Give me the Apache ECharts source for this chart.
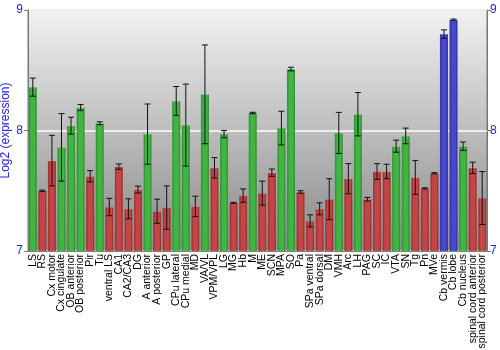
<!DOCTYPE html>
<html>
<head>
<meta charset="utf-8">
<script src="https://cdn.jsdelivr.net/npm/echarts@6/dist/echarts.min.js"></script>
<style>
  html, body { margin: 0; padding: 0; background: #fff; }
  #chart { width: 500px; height: 350px; }
</style>
</head>
<body>
<div id="chart"></div>
<script>
// Brain regions
var regions = ['LS', 'RS', 'Cx motor', 'Cx cingulate', 'OB anterior', 'OB posterior', 'Pir', 'Tu',
  'ventral LS', 'CA1', 'CA2/CA3', 'DG', 'A anterior', 'A posterior', 'GP', 'CPu lateral',
  'CPu medial', 'MD', 'VA/VL', 'VPM/VPL', 'LG', 'MG', 'Hb', 'M', 'ME', 'SCN', 'MPA', 'SO',
  'Pa', 'SPa ventral', 'SPa dorsal', 'DM', 'VMH', 'Arc', 'LH', 'PAG', 'SC', 'IC', 'VTA', 'SN',
  'Tg', 'Pn', 'MVe', 'Cb vermis', 'Cb lobe', 'Cb nucleus', 'spinal cord anterior', 'spinal cord posterior'];

// Mean log2 expression per region
var expression = [8.36, 7.50, 7.75, 7.86, 8.04, 8.19, 7.62, 8.06,
  7.365, 7.70, 7.35, 7.51, 7.97, 7.33, 7.36, 8.245,
  8.045, 7.37, 8.30, 7.69, 7.97, 7.40, 7.46, 8.145, 7.48, 7.65, 8.02, 8.51,
  7.49, 7.25, 7.35, 7.43, 7.98, 7.60, 8.135, 7.43, 7.66, 7.66, 7.87, 7.955,
  7.61, 7.52, 7.645, 8.80, 8.92, 7.87, 7.69, 7.44];

// Standard error (half-length of each error bar)
var stdError = [0.075, 0.005, 0.21, 0.28, 0.07, 0.025, 0.047, 0.012,
  0.072, 0.022, 0.083, 0.028, 0.25, 0.10, 0.18, 0.12,
  0.34, 0.085, 0.41, 0.085, 0.03, 0.004, 0.055, 0.006, 0.10, 0.03, 0.14, 0.015,
  0.01, 0.05, 0.05, 0.17, 0.17, 0.125, 0.18, 0.015, 0.065, 0.06, 0.05, 0.065,
  0.14, 0.004, 0.005, 0.035, 0.005, 0.035, 0.047, 0.22];

// Colour group: g = green, r = red, b = blue
var groups = ['g', 'r', 'r', 'g', 'g', 'g', 'r', 'g',
  'r', 'r', 'r', 'r', 'g', 'r', 'r', 'g',
  'g', 'r', 'g', 'r', 'g', 'r', 'r', 'g', 'r', 'r', 'g', 'g',
  'r', 'r', 'r', 'r', 'g', 'r', 'g', 'r', 'r', 'r', 'g', 'g',
  'r', 'r', 'r', 'b', 'b', 'g', 'r', 'r'];

var yTicks = [7, 8, 9];

function barGradient(dark, light, darker) {
  return new echarts.graphic.LinearGradient(0, 0, 1, 0, [
    { offset: 0, color: dark },
    { offset: 0.3, color: light },
    { offset: 0.75, color: light },
    { offset: 1, color: darker }
  ]);
}
var palette = {
  g: barGradient('#22842a', '#42b443', '#1f7322'),
  r: barGradient('#8c2222', '#c24646', '#7a1c1c'),
  b: barGradient('#24249a', '#4848ca', '#1e1e88')
};

var barData = expression.map(function (v, i) {
  return { value: v, itemStyle: { color: palette[groups[i]] } };
});
var errData = expression.map(function (v, i) {
  return [i, v - stdError[i], v + stdError[i]];
});

var blue = '#2222ee';
var font = 'Liberation Sans, Arial, sans-serif';
var chart = echarts.init(document.getElementById('chart'), null, { renderer: 'canvas' });
chart.setOption({
  animation: false,
  grid: {
    left: 28, right: 13, top: 10, bottom: 99,
    outerBoundsMode: 'none',
    containLabel: false,
    show: true,
    borderColor: '#777',
    borderWidth: 1,
    backgroundColor: new echarts.graphic.LinearGradient(0, 0, 0, 1, [
      { offset: 0, color: '#f2f2f2' },
      { offset: 1, color: '#888888' }
    ])
  },
  xAxis: {
    type: 'category',
    data: regions,
    axisLine: { show: true, lineStyle: { color: '#777' } },
    axisTick: { show: false },
    axisLabel: {
      interval: 0, rotate: 90, color: '#000',
      fontFamily: font, fontSize: 10.5, margin: 3
    }
  },
  yAxis: [{
    type: 'value', min: yTicks[0], max: yTicks[yTicks.length - 1], interval: 1,
    name: 'Log2 (expression)', nameLocation: 'middle', nameGap: 16,
    nameMoveOverlap: false,
    nameTextStyle: { color: blue, fontSize: 12, fontFamily: font },
    axisLine: { show: true, lineStyle: { color: '#777' } },
    axisTick: { show: true, length: 4, lineStyle: { color: '#777' } },
    axisLabel: { color: blue, fontSize: 12, margin: 5, fontFamily: font },
    splitLine: { show: true, lineStyle: { color: '#ffffff', width: 1.5 } }
  }, {
    type: 'value', min: yTicks[0], max: yTicks[yTicks.length - 1], interval: 1, position: 'right',
    axisLine: { show: true, lineStyle: { color: '#777' } },
    axisTick: { show: true, length: 4, lineStyle: { color: '#777' } },
    axisLabel: { color: blue, fontSize: 12, margin: 3, fontFamily: font },
    splitLine: { show: false }
  }],
  series: [{
    type: 'bar',
    data: barData,
    barCategoryGap: '10%',
    itemStyle: { borderColor: 'rgba(255,255,255,0.25)', borderWidth: 0.5 }
  }, {
    type: 'custom',
    z: 5,
    data: errData,
    renderItem: function (params, api) {
      var x = api.value(0);
      var lo = api.coord([x, api.value(1)]);
      var hi = api.coord([x, api.value(2)]);
      var cap = 3;
      var st = { stroke: '#111', lineWidth: 1 };
      return {
        type: 'group',
        children: [
          { type: 'line', shape: { x1: lo[0], y1: lo[1], x2: hi[0], y2: hi[1] }, style: st },
          { type: 'line', shape: { x1: lo[0] - cap, y1: lo[1], x2: lo[0] + cap, y2: lo[1] }, style: st },
          { type: 'line', shape: { x1: hi[0] - cap, y1: hi[1], x2: hi[0] + cap, y2: hi[1] }, style: st }
        ]
      };
    }
  }]
});
</script>
</body>
</html>
